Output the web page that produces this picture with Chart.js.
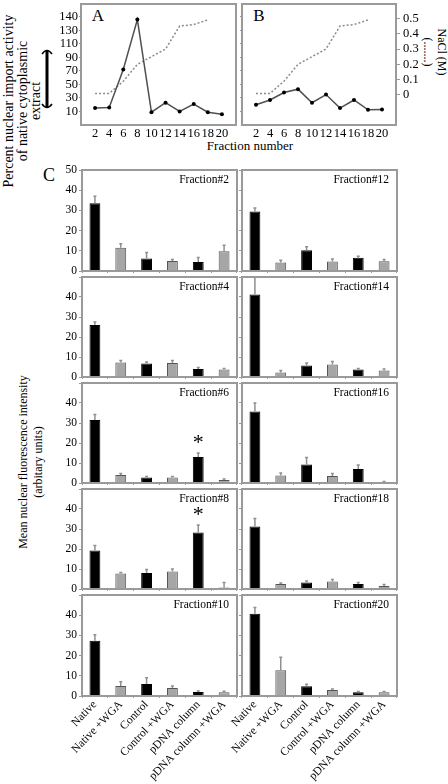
<!DOCTYPE html>
<html>
<head>
<meta charset="utf-8">
<script src="https://cdn.jsdelivr.net/npm/chart.js@4/dist/chart.umd.min.js"></script>
<style>
  body { margin: 0; background: #fff; }
  #fig { position: relative; width: 448px; height: 784px; overflow: hidden; background: #fff;
         font-family: "Liberation Serif", "Times New Roman", serif; color: #000; }
  #fig canvas { position: absolute; }
  .lbl { position: absolute; white-space: nowrap; line-height: 1; transform: translate(-50%, -50%); }
  .ccw { transform: translate(-50%, -50%) rotate(-90deg); text-align: center; }
  .cw { transform: translate(-50%, -50%) rotate(90deg); text-align: center; }
</style>
</head>
<body>
<div id="fig">
  <div class="lbl ccw" style="left:22px; top:101px; font-size:14px; line-height:13.5px;">Percent nuclear import activity<br>of native cytoplasmic<br>extract</div>
  <div class="lbl cw" style="left:435px; top:52px; font-size:12px; line-height:14px;">NaCl (M)<br>(.......)</div>
  <div class="lbl" style="left:98px; top:15px; font-size:17px;">A</div>
  <div class="lbl" style="left:259px; top:15px; font-size:17px;">B</div>
  <div class="lbl" style="left:250px; top:145px; font-size:13px;">Fraction number</div>
  <div class="lbl" style="left:49px; top:175px; font-size:18px;">C</div>
  <div class="lbl ccw" style="left:31px; top:462px; font-size:12px; line-height:15px;">Mean nuclear fluorescence intensity<br>(arbitary units)</div>
</div>
<script>
// panels A and B
const fractions = [2, 4, 6, 8, 10, 12, 14, 16, 18, 20];
const importA = [15, 16, 72, 146, 9, 23, 10, 21, 9, 6];
const importB = [20, 27, 38, 43, 23, 35, 15, 27, 12.5, 13];
const naclFractions = [2, 4, 6, 8, 10, 12, 14, 16, 18];
const nacl = [0.01, 0.01, 0.09, 0.2, 0.25, 0.3, 0.45, 0.46, 0.49];
const importTicks = [10, 30, 50, 70, 90, 110, 130, 150];
const importTickLabels = ['10', '30', '50', '70', '90', '110', '130', '140'];
const naclTicks = [0, 0.1, 0.2, 0.3, 0.4, 0.5];
const naclTickLabels = ['0', '0.1', '0.2', '0.3', '0.4', '0.5'];

// panel C
const treatments = ['Native', 'Native +WGA', 'Control', 'Control +WGA', 'pDNA column', 'pDNA column +WGA'];
const fluoTicks = [0, 10, 20, 30, 40, 50];
const mean2 = [33.5, 11.5, 6.2, 5, 4.5, 9.8];
const err2 = [3.5, 2, 3, 0.7, 2.2, 3];
const mean4 = [26, 7.2, 6.7, 7, 4, 3.7];
const err4 = [1.5, 1, 0.8, 1.3, 0.7, 0.5];
const mean6 = [31.5, 4, 2.8, 2.7, 13, 1.5];
const err6 = [2.8, 0.7, 0.5, 0.6, 2, 0.5];
const mean8 = [19.3, 7.7, 8, 8.7, 28.3, 0.7];
const err8 = [2.4, 0.6, 1.7, 1.3, 3.7, 2.6];
const mean10 = [27.3, 5, 6, 4, 2, 1.8];
const err10 = [3, 2, 3, 1, 0.5, 0.5];
const mean12 = [29.5, 4.2, 10.3, 4.7, 6.5, 4.8];
const err12 = [1.7, 1.1, 1.7, 1.3, 0.8, 0.9];
const mean14 = [41.2, 2.2, 5.8, 6.3, 3.7, 3.3];
const err14 = [8.5, 1.1, 1.2, 1.5, 0.6, 0.7];
const mean16 = [35.8, 3.8, 9.3, 3.5, 7, 0.3];
const err16 = [4.2, 1.2, 3.4, 1.2, 2, 0.4];
const mean18 = [31.3, 2.5, 3.3, 3.7, 2.5, 1.5];
const err18 = [4, 0.5, 0.7, 1, 0.7, 0.7];
const mean20 = [40.7, 12.8, 4.8, 3, 1.8, 1.8];
const err20 = [3.1, 6.4, 1, 0.5, 0.4, 0.4];
const starFractions = [6, 8];
const starBar = 'pDNA column';

const FRAME = '#9a9a9a';
const LINE = '#505050';
const DOTS = '#8a8a8a';
const BLACK = '#000000';
const GRAY = '#a6a6a6';
const ERR = '#909090';

const ROW_TOPS = [170, 277, 383, 489, 595];
const ROW_BOTTOMS = [271, 377, 483, 589, 696];

Chart.defaults.font.family = '"Liberation Serif", "Times New Roman", serif';
Chart.defaults.color = '#000';
Chart.defaults.animation = false;
Chart.defaults.events = [];
Chart.defaults.plugins.legend.display = false;
Chart.defaults.plugins.tooltip.enabled = false;

const fig = document.getElementById('fig');

function makeCanvas(x, y, w, h) {
  const c = document.createElement('canvas');
  c.width = w;
  c.height = h;
  c.style.left = x + 'px';
  c.style.top = y + 'px';
  c.style.width = w + 'px';
  c.style.height = h + 'px';
  fig.appendChild(c);
  return c;
}

const frame = {
  id: 'frame',
  afterDraw(chart) {
    const { ctx, chartArea: a } = chart;
    ctx.save();
    ctx.strokeStyle = FRAME;
    ctx.lineWidth = 2;
    ctx.strokeRect(a.left, a.top, a.right - a.left, a.bottom - a.top);
    ctx.restore();
  }
};

// double headed bar left of panel A
const bracket = {
  id: 'bracket',
  afterDraw(chart) {
    const ctx = chart.ctx;
    ctx.save();
    ctx.strokeStyle = '#000';
    ctx.lineWidth = 3;
    ctx.beginPath();
    ctx.moveTo(47, 51);
    ctx.lineTo(47, 107);
    ctx.stroke();
    ctx.lineWidth = 1.5;
    ctx.beginPath();
    ctx.moveTo(42, 54);
    ctx.quadraticCurveTo(47, 47, 52, 54);
    ctx.moveTo(42, 104);
    ctx.quadraticCurveTo(47, 111, 52, 104);
    ctx.stroke();
    ctx.restore();
  }
};

function noPad(s) {
  s.paddingTop = 0;
  s.paddingBottom = 0;
  s.paddingLeft = 0;
  s.paddingRight = 0;
}

function lineChart(canvas, values, o) {
  return new Chart(canvas, {
    type: 'line',
    data: {
      datasets: [
        {
          data: fractions.map((f, i) => ({ x: f, y: values[i] })),
          yAxisID: 'y',
          borderColor: LINE,
          borderWidth: 1.5,
          pointRadius: 2,
          pointBackgroundColor: '#000',
          pointBorderWidth: 0,
        },
        {
          data: naclFractions.map((f, i) => ({ x: f, y: nacl[i] })),
          yAxisID: 'y2',
          borderColor: DOTS,
          borderWidth: 1.5,
          borderDash: [2, 2],
          pointRadius: 0,
        },
      ],
    },
    options: {
      responsive: false,
      devicePixelRatio: 1,
      layout: { padding: o.padding },
      scales: {
        x: {
          type: 'linear',
          min: 0,
          max: 22,
          afterBuildTicks: (s) => { s.ticks = fractions.map((v) => ({ value: v })); },
          afterFit: (s) => { s.height = 35; noPad(s); },
          grid: { display: false, drawTicks: false },
          border: { display: false },
          ticks: { font: { size: 12.5 }, padding: 1, maxRotation: 0, autoSkip: false },
        },
        y: {
          min: -10,
          max: 169,
          afterBuildTicks: (s) => { s.ticks = importTicks.map((v) => ({ value: v })); },
          afterFit: (s) => { s.width = o.leftWidth; noPad(s); },
          grid: { drawOnChartArea: false, tickLength: 2, color: FRAME },
          border: { display: false },
          ticks: { display: o.leftLabels, autoSkip: false, font: { size: 12.5 }, padding: 1, callback: (v, i) => importTickLabels[i] },
        },
        y2: {
          position: 'right',
          display: o.rightAxis,
          min: -0.196,
          max: 0.594,
          afterBuildTicks: (s) => { s.ticks = naclTicks.map((v) => ({ value: v })); },
          afterFit: (s) => { s.width = o.rightWidth; noPad(s); },
          grid: { drawOnChartArea: false, tickLength: 4, color: FRAME },
          border: { display: false },
          ticks: { autoSkip: false, font: { size: 12.5 }, padding: 3, callback: (v, i) => naclTickLabels[i] },
        },
      },
    },
    plugins: [frame].concat(o.plugins || []),
  });
}

lineChart(makeCanvas(0, 0, 240, 160), importA, {
  padding: { left: 0, right: 3, top: 1, bottom: 0 },
  leftWidth: 81, leftLabels: true, rightAxis: false, rightWidth: 0,
  plugins: [bracket],
});
lineChart(makeCanvas(238, 0, 210, 160), importB, {
  padding: { left: 0, right: 0, top: 1, bottom: 0 },
  leftWidth: 3, leftLabels: false, rightAxis: true, rightWidth: 52,
});

// error bars, fraction label and asterisk for each bar panel
const panelMarks = {
  id: 'panelMarks',
  afterDatasetsDraw(chart, args, opts) {
    const { ctx, chartArea: a } = chart;
    const yScale = chart.scales.y;
    const bars = chart.getDatasetMeta(0).data;
    ctx.save();
    ctx.strokeStyle = ERR;
    ctx.lineWidth = 1.5;
    bars.forEach((bar, i) => {
      const yTop = yScale.getPixelForValue(opts.means[i] + opts.errs[i]);
      ctx.beginPath();
      ctx.moveTo(bar.x, bar.y);
      ctx.lineTo(bar.x, yTop);
      ctx.moveTo(bar.x - 1.5, yTop);
      ctx.lineTo(bar.x + 1.5, yTop);
      ctx.stroke();
      if (opts.star && treatments[i] === starBar) {
        ctx.fillStyle = '#000';
        ctx.font = '22px "Liberation Serif", serif';
        ctx.textAlign = 'center';
        ctx.textBaseline = 'alphabetic';
        const m = ctx.measureText('*');
        const cy = yTop - 14;
        ctx.fillText('*', bar.x, cy + (m.actualBoundingBoxAscent - m.actualBoundingBoxDescent) / 2);
      }
    });
    ctx.fillStyle = '#000';
    ctx.font = '11.5px "Liberation Serif", serif';
    ctx.textAlign = 'right';
    ctx.textBaseline = 'middle';
    ctx.fillText('Fraction#' + opts.fraction, a.right - 8, a.top + 10);
    ctx.restore();
  }
};

const panels = [
  [2, mean2, err2], [4, mean4, err4], [6, mean6, err6], [8, mean8, err8], [10, mean10, err10],
  [12, mean12, err12], [14, mean14, err14], [16, mean16, err16], [18, mean18, err18], [20, mean20, err20],
];

panels.forEach(([fraction, means, errs], idx) => {
  const col = idx < 5 ? 0 : 1;
  const row = idx % 5;
  const top = ROW_TOPS[row];
  const bottom = ROW_BOTTOMS[row];
  const lastRow = row === 4;
  const axisH = lastRow ? 784 - bottom : 4;
  const left = col ? 220 : 0;
  const width = col ? 180 : 240;
  const yWidth = col ? 22 : 82;
  const canvas = makeCanvas(left, top - 8, width, bottom - top + 8 + axisH);
  new Chart(canvas, {
    type: 'bar',
    data: {
      labels: treatments,
      datasets: [{
        data: means,
        backgroundColor: treatments.map((t) => (t.includes('WGA') ? GRAY : BLACK)),
        borderColor: treatments.map((t) => (t.includes('WGA') ? '#555' : BLACK)),
        borderWidth: 1,
        barPercentage: 0.42,
        categoryPercentage: 1,
      }],
    },
    options: {
      responsive: false,
      devicePixelRatio: 1,
      layout: { padding: { left: 0, right: 3, top: 8, bottom: 0 } },
      scales: {
        x: {
          afterFit: (s) => { s.height = axisH; noPad(s); },
          grid: { offset: true, drawOnChartArea: false, tickLength: 2, color: FRAME },
          border: { display: false },
          ticks: { display: lastRow, font: { size: 11.5 }, minRotation: 46, maxRotation: 46, autoSkip: false, padding: 0 },
        },
        y: {
          min: 0,
          max: 50,
          afterBuildTicks: (s) => { s.ticks = fluoTicks.map((v) => ({ value: v })); },
          afterFit: (s) => { s.width = yWidth; noPad(s); },
          grid: { drawOnChartArea: false, tickLength: 3, color: FRAME },
          border: { display: false },
          ticks: {
            display: col === 0,
            autoSkip: false,
            font: { size: 11.5 },
            padding: 2,
            callback: (v) => (v === 50 && row !== 0 ? '' : String(v)),
          },
        },
      },
      plugins: {
        panelMarks: { fraction, means, errs, star: starFractions.includes(fraction) },
      },
    },
    plugins: [frame, panelMarks],
  });
});
</script>
</body>
</html>
